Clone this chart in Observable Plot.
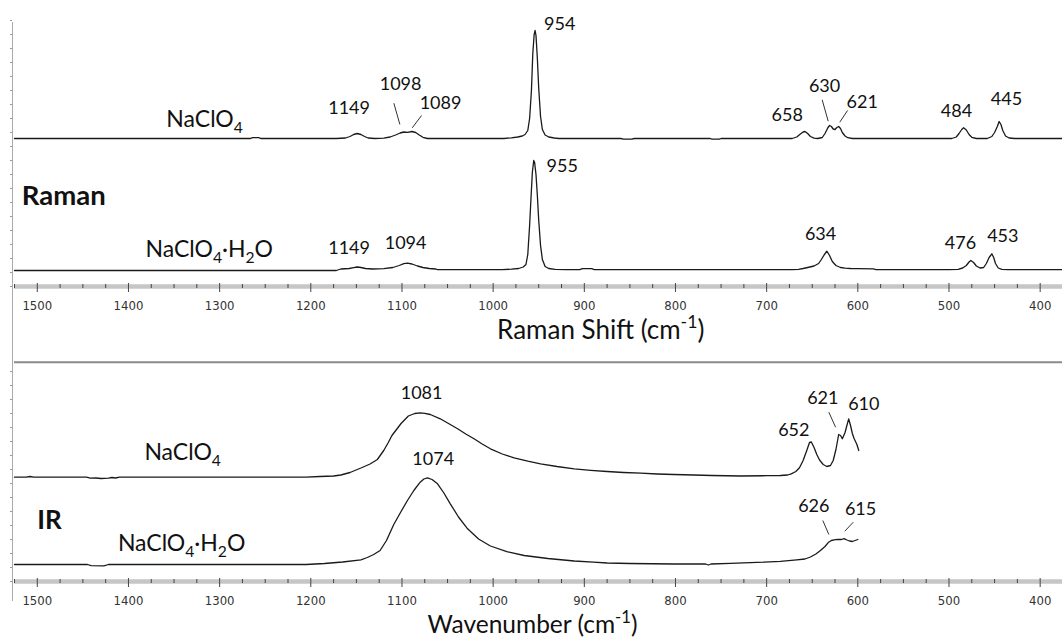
<!DOCTYPE html>
<html><head><meta charset="utf-8">
<script src="https://cdn.jsdelivr.net/npm/d3@7"></script>
<script src="https://cdn.jsdelivr.net/npm/@observablehq/plot@0.6"></script>
<style>
body{margin:0;background:#fff;overflow:hidden}
#chart{width:1062px;height:638px;position:relative}
#chart svg{display:block}
</style>
</head><body><div id="chart"></div>
<script>
// ---- data (wavenumber cm^-1, intensity a.u. above each trace's baseline) ----
const ramanNaClO4 = [
[1525,0],[1266,0],[1264,0.8],[1257,0.8],[1255,0],[1172,0],[1162,0.5],[1157,2],[1153,4],[1149,5],[1145,4],[1141,2],[1137,0.5],[1130,0],
[1120,0.3],[1113,1.5],[1107,3.5],[1102,5.5],[1098,6.5],[1094,6.2],[1089,7],[1085,6],[1081,3.5],[1077,1.2],[1072,0],
[988,0],[980,0.7],[973,1.5],[968,2.5],[965,4],[962,8],[960,20],[958,48],[956.5,85],[955,104],[954,108],[953,103],[951.5,80],[950,50],[948,22],[946,9],[943,3.5],[939,1.5],[933,0.5],[928,0],
[860,0],[857,-0.6],[848,-0.6],[845,0],[762,0],[760,-0.6],[752,-0.6],[750,0],
[672,0],[667,1.5],[663,4.5],[660,6.5],[658,7],[655,5],[652,2],[648,0.3],[644,0],[639,1],[636,5],[633,10.5],[631,13],[629,12],[627,9.5],[625,9],[623,11],[621,12],[619,10],[617,6],[614,2.5],[611,0.8],[606,0],
[497,0],[492,1.5],[489,5],[486,9],[484,10.7],[481,8.5],[478,4],[475,1.2],[470,0],[458,0],[453,2],[450,6],[447,12],[445,17],[443,14],[441,8],[438,2.5],[434,0.5],[428,0],[375,0]
];
const ramanNaClO4H2O = [
[1525,0],[1172,0],[1167,1.5],[1158,2],[1153,2.8],[1149,3.5],[1145,3],[1140,2],[1132,1.5],[1120,1.8],[1110,3],[1103,5],[1098,6.8],[1094,7.3],[1089,6.5],[1083,4.5],[1077,3],[1070,2],[1063,1.5],[1061,0.8],
[990,0.8],[980,1.3],[972,2],[967,3.5],[964,6],[962,16],[960,45],[958.5,72],[957,98],[955.5,110],[954.5,108],[953,96],[951.5,75],[950,50],[948,25],[946,11],[943,4],[939,2],[932,1.2],[920,0.8],
[905,0.8],[902,1.8],[892,1.8],[889,0.8],[672,0.8],[665,1.2],[660,2],[655,3],[648,4.5],[643,7],[640,11],[637,15.5],[634,19.3],[631,15],[628,9],[624,5],[619,3],[614,2.3],[608,2],[600,1.8],[583,1.7],[580,0.8],
[500,0.8],[490,1.2],[485,2.5],[481,5],[478,8.5],[476,10],[473,8],[470,4.5],[466,2.5],[462,3],[459,7],[456,13],[453,16.7],[451,13],[449,7],[446,2.5],[442,1.2],[435,0.8],[375,0.8]
];
const irNaClO4 = [
[1525,0.3],[1512,0.3],[1508,1],[1504,0.3],[1446,0.3],[1442,-0.7],[1436,-0.5],[1430,-1],[1422,-0.7],[1418,0],[1414,-0.5],[1410,0.3],[1300,0.3],[1205,0.3],[1190,1],[1175,1.5],[1167,2.5],[1157,5],[1145,9.5],[1135,13.5],[1127,18],[1120,27],[1115,35],[1111,42],[1106,48],[1101,54],[1093,61.5],[1086,64],[1080,64.7],[1075,64.2],[1069,63],[1058,58.7],[1048,53.5],[1039,48.7],[1030,43.5],[1021,38.7],[1012,33.5],[1003,28.7],[990,23.5],[977,19.7],[962,16.3],[948,13.7],[930,11],[911,8.7],[893,7.2],[875,6],[857,5],[838,4.3],[820,3.5],[802,3],[780,2.5],[760,2],[729,1.5],[700,1.8],[685,2],[677,2.5],[673,3.7],[668,6],[664,9.7],[660,17],[656,27],[653,35],[651,35.5],[648,30],[645,23],[642,17.5],[638,13],[634,11],[630,12],[627,17],[624,28],[621,43],[619,42],[617,38.7],[614,45],[612,52],[610,58.7],[608,52],[606,44],[604,38.7],[601,33],[599,27]
];
const irNaClO4H2O = [
[1525,0],[1445,0],[1441,-1.2],[1427,-1.4],[1422,0],[1300,0],[1205,0],[1185,1],[1165,2.5],[1145,4.7],[1138,7],[1131,10],[1124,14],[1117,24],[1109,40],[1101,53],[1094,64],[1087,74],[1080,82.3],[1076,85.5],[1072,86.7],[1067,85],[1061,80.7],[1054,71.5],[1047,60.7],[1038,47.5],[1028,35.7],[1016,25.5],[1003,18.5],[985,12.8],[966,9],[940,6],[911,3.5],[890,2.3],[875,1.5],[850,1],[802,0.5],[767,0.5],[764,-0.5],[761,0.5],[740,1.2],[703,2.3],[685,3.2],[667,4.7],[658,5.5],[652,7.5],[646,10.5],[641,14],[636,18],[632,22.3],[629,24],[626,24.7],[622,25.2],[618,25],[615,25.8],[612,24.5],[609,23.5],[606,23],[603,24],[600,25]
];
// peak labels: [text, wavenumber, height]
const ramanPeakLabels = [
["1149",1158,178],["1098",1101.5,202],["1089",1057.7,183],["954",927,262],["658",677.4,171],["630",636.5,200],["621",595.2,184.3],["484",491.8,175.3],["445",437,187.7],
["1149",1158,38],["1094",1096,43.7],["955",924.2,120],["634",640.9,52.7],["476",487.4,43.3],["453",441,50]
];
const ramanLeaders = [[1108.9,183.3,1102.3,162],[1078.5,171,1088.7,158.7],[639.1,186.7,632.5,165.3],[611.3,176,619.8,164.3]];
const irPeakLabels = [["1081",1078.5,188.7],["1074",1065.7,122],["652",670.2,151.7],["621",638.4,183.7],["610",593.4,177],["626",648.3,75],["615",597,72.7]];
const irLeaders = [[631.8,169.3,624.4,154.3],[638.4,61,631.8,47],[605,59.3,614.3,50.3]];
const ramanNames = [["NaClO₄",1316.5,167],["NaClO₄·H₂O",1311.4,37]];
const irNames = [["NaClO₄",1340.6,129.3],["NaClO₄·H₂O",1341.7,38.3]];
const panelTitles = [["Raman",1517,90],["IR",1500,61]];
const axisTitles = [["Raman Shift (cm⁻¹)",882,-44],["Wavenumber (cm⁻¹)",956.8,-44]];
const xMajorTicks = [1500,1400,1300,1200,1100,1000,900,800,700,600,500,400];
const xMinorTicks = d3.range(400,1526,25).filter(v => v % 100 !== 0);

const FONT = "Lato, 'Open Sans', sans-serif";
const TICKFONT = "'Liberation Sans Narrow', 'DejaVu Sans Condensed', sans-serif";
const xDomain = [1525, 375.5];

function axisMarks(yTop, yBottom, yTicksMax) {
  return [
    Plot.ruleY([0], {stroke: "#c6c6c6", strokeWidth: 4.5}),
    Plot.axisX({ticks: xMinorTicks, tickSize: 4, dy: -2, tickFormat: () => "", stroke: "#444", label: null}),
    Plot.axisX({ticks: xMajorTicks, tickSize: 9, dy: -3, tickPadding: 8, tickFormat: d => String(d),
      fontSize: 13, fontFamily: TICKFONT, fill: "#333", stroke: "#444", label: null}),
    Plot.ruleX([xDomain[0]], {y1: yTop, y2: yBottom, stroke: "#aaa", dx: -2}),
    Plot.axisY({ticks: d3.range(0, yTicksMax, 14), anchor: "left", tickSize: 2, dx: -2, tickFormat: () => "", stroke: "#999", label: null})
  ];
}

function traceLine(data, offset) {
  return Plot.line(data, {x: d => d[0], y: d => d[1] + offset, stroke: "#1a1a1a", strokeWidth: 1.3});
}

const raman = Plot.plot({
  width: 1062, height: 361, marginLeft: 14, marginRight: 0, marginTop: 0, marginBottom: 75,
  x: {domain: xDomain, axis: null}, y: {domain: [0, 286], axis: null},
  style: {background: "white", overflow: "visible"},
  marks: [
    ...axisMarks(264, -75, 270),
    traceLine(ramanNaClO4, 148),
    traceLine(ramanNaClO4H2O, 16),
    Plot.link(ramanLeaders, {x1: d => d[0], y1: d => d[1], x2: d => d[2], y2: d => d[3], stroke: "#333", strokeWidth: 1}),
    Plot.text(ramanPeakLabels, {x: d => d[1], y: d => d[2], text: d => d[0], fontSize: 18, fontFamily: FONT, fill: "#111"}),
    Plot.text(ramanNames, {x: d => d[1], y: d => d[2], text: d => d[0], fontSize: 23, fontFamily: FONT, fill: "#111"}),
    Plot.text(panelTitles.slice(0,1), {x: d => d[1], y: d => d[2], text: d => d[0], fontSize: 27.5, fontWeight: "bold", textAnchor: "start", fontFamily: FONT, fill: "#111"}),
    Plot.text(axisTitles.slice(0,1), {x: d => d[1], y: d => d[2], text: d => d[0], fontSize: 26, fontFamily: FONT, fill: "#111"})
  ]
});

const ir = Plot.plot({
  width: 1062, height: 277, marginLeft: 14, marginRight: 0, marginTop: 0, marginBottom: 57,
  x: {domain: xDomain, axis: null}, y: {domain: [0, 220], axis: null},
  style: {background: "white", overflow: "visible"},
  marks: [
    Plot.ruleY([219.2], {stroke: "#8a8a8a", strokeWidth: 2}),
    ...axisMarks(220, -20, 215),
    traceLine(irNaClO4, 104),
    traceLine(irNaClO4H2O, 17),
    Plot.link(irLeaders, {x1: d => d[0], y1: d => d[1], x2: d => d[2], y2: d => d[3], stroke: "#333", strokeWidth: 1}),
    Plot.text(irPeakLabels, {x: d => d[1], y: d => d[2], text: d => d[0], fontSize: 18, fontFamily: FONT, fill: "#111"}),
    Plot.text(irNames, {x: d => d[1], y: d => d[2], text: d => d[0], fontSize: 23, fontFamily: FONT, fill: "#111"}),
    Plot.text(panelTitles.slice(1), {x: d => d[1], y: d => d[2], text: d => d[0], fontSize: 26, fontWeight: "bold", textAnchor: "start", fontFamily: FONT, fill: "#111"}),
    Plot.text(axisTitles.slice(1), {x: d => d[1], y: d => d[2], text: d => d[0], fontSize: 24.5, fontFamily: FONT, fill: "#111"})
  ]
});

const chart = document.getElementById("chart");
chart.appendChild(raman);
chart.appendChild(ir);

// render sub/superscripts as real tspans
const SUB = {"₀":"0","₁":"1","₂":"2","₃":"3","₄":"4","₅":"5","₆":"6","₇":"7","₈":"8","₉":"9"};
const SUP = {"⁻":"-","¹":"1","²":"2","³":"3"};
function richify(el) {
  const s = el.textContent;
  if (![...s].some(c => SUB[c] || SUP[c])) return;
  const fs = parseFloat(getComputedStyle(el).fontSize) || 16;
  const segs = [];
  for (const c of s) {
    const type = SUB[c] ? "sub" : SUP[c] ? "sup" : "n";
    const ch = SUB[c] || SUP[c] || c;
    if (segs.length && segs[segs.length-1].type === type) segs[segs.length-1].t += ch;
    else segs.push({type, t: ch});
  }
  el.textContent = "";
  let cur = 0;
  for (const sg of segs) {
    const target = sg.type === "sub" ? 0.28*fs : sg.type === "sup" ? -0.42*fs : 0;
    const ts = document.createElementNS("http://www.w3.org/2000/svg", "tspan");
    if (target !== cur) ts.setAttribute("dy", (target - cur).toFixed(2));
    if (sg.type !== "n") ts.setAttribute("font-size", (0.68*fs).toFixed(2));
    ts.textContent = sg.t;
    el.appendChild(ts);
    cur = target;
  }
}
chart.querySelectorAll("text").forEach(richify);
</script>
</body></html>
